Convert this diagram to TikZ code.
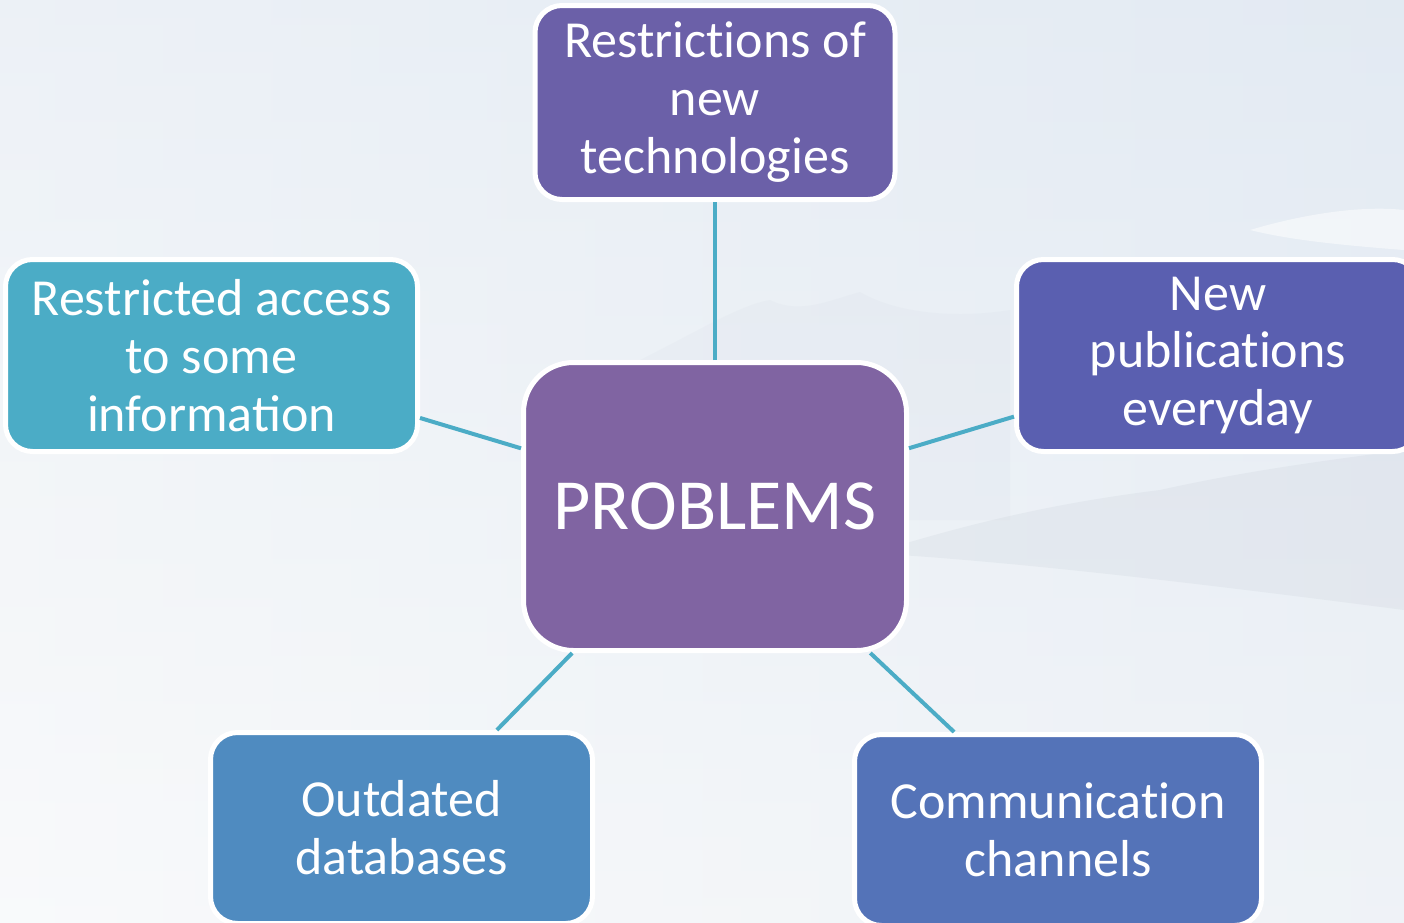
\documentclass[tikz,border=0pt]{standalone}
\usepackage{fontspec}
\setmainfont{Carlito}
\usepackage{tikz}

\definecolor{linkteal}{RGB}{75,172,198}
\definecolor{techpurple}{RGB}{107,96,168}
\definecolor{accessteal}{RGB}{75,172,198}
\definecolor{probpurple}{RGB}{128,100,162}
\definecolor{pubblue}{RGB}{90,95,176}
\definecolor{datablue}{RGB}{79,139,192}
\definecolor{commblue}{RGB}{84,115,184}
\newcommand\nolig{\kern0pt}

\begin{document}
\begin{tikzpicture}[x=0.5pt,y=0.5pt,yscale=-1,xscale=1,
  box/.style={draw=white,line width=2.5pt,rounded corners=13.5pt,text=white,align=center,inner sep=0pt,
    font=\fontsize{26}{29}\selectfont},
  probbox/.style={box,rounded corners=25pt,font=\fontsize{36}{40}\selectfont},
  link/.style={draw=linkteal,line width=2pt}]
\useasboundingbox (0,0) rectangle (1404,922);
% background
\shade [left color={rgb,255:red,244;green,246;blue,248},right color={rgb,255:red,226;green,233;blue,241}] (0,0) rectangle (1404,922);
\shade [top color={rgb,255:red,228;green,236;blue,245},bottom color=white,opacity=0.45] (0,0) rectangle (1404,922);
\fill [fill={rgb,255:red,190;green,200;blue,210},fill opacity=0.08] (640,360) .. controls (700,330) and (740,305) .. (770,300) .. controls (800,315) and (830,300) .. (860,292) .. controls (900,315) and (960,318) .. (1010,310) -- (1010,520) -- (640,520) -- cycle;
\fill [fill={rgb,255:red,170;green,180;blue,190},fill opacity=0.12] (900,545) .. controls (1000,515) and (1080,500) .. (1160,490) .. controls (1250,470) and (1330,460) .. (1404,450) -- (1404,610) .. controls (1250,590) and (1050,565) .. (900,555) -- cycle;
\fill [fill=white,fill opacity=0.5] (1250,230) .. controls (1300,215) and (1360,205) .. (1404,210) -- (1404,250) .. controls (1340,245) and (1290,240) .. (1250,230) -- cycle;

% boxes
\draw (715,506.5) node [probbox,fill=probpurple,minimum width=191.5pt,minimum height=144pt] (ctr) {PROBLEMS};
\draw (715,102.5) node [box,fill=techpurple,minimum width=180pt,minimum height=97pt] (tech) {Restrict\nolig{}ions of\\new\\technologies};
\draw (211.5,355.5) node [box,fill=accessteal,minimum width=206pt,minimum height=96pt] (access) {Restricted access\\to some\\information};
\draw (1218,355.5) node [box,fill=pubblue,minimum width=201.5pt,minimum height=96pt] (pub) {New\\publicat\nolig{}ions\\everyday};
\draw (401.5,828) node [box,fill=datablue,minimum width=191pt,minimum height=95.5pt] (data) {Outdated\\databases};
\draw (1058,830) node [box,fill=commblue,minimum width=203.5pt,minimum height=95.5pt] (comm) {Communicat\nolig{}ion\\channels};

% connectors
\draw [link] (ctr) -- (tech);
\draw [link] (ctr) -- (access);
\draw [link] (ctr) -- (pub);
\draw [link] (ctr) -- (data);
\draw [link] (ctr) -- (comm);
\end{tikzpicture}
\end{document}
